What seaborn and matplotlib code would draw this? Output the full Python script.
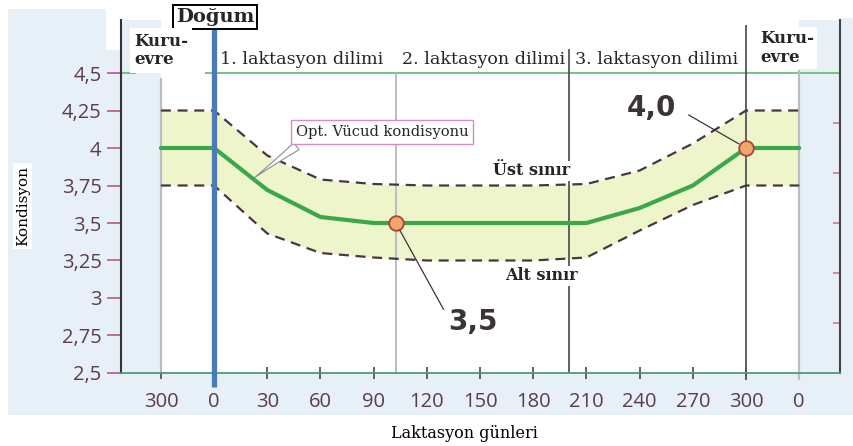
import matplotlib
matplotlib.use("Agg")
from matplotlib import pyplot as plt
from matplotlib.patches import Rectangle
import pandas as pd
import seaborn as sns

# laktasyon gunleri (-30 = kuru donem 300. gun, 330 = sonraki 0. gun)
days = [-30, 0, 30, 60, 90, 120, 150, 180, 210, 240, 270, 300, 330]
optimum = [4.0, 4.0, 3.72, 3.54, 3.5, 3.5, 3.5, 3.5, 3.5, 3.6, 3.75, 4.0, 4.0]
ust_sinir = [4.25, 4.25, 3.95, 3.79, 3.76, 3.75, 3.75, 3.75, 3.76, 3.85, 4.03, 4.25, 4.25]
alt_sinir = [3.75, 3.75, 3.43, 3.30, 3.27, 3.25, 3.25, 3.25, 3.27, 3.45, 3.62, 3.75, 3.75]

tick_days = [-30, 0, 30, 60, 90, 120, 150, 180, 210, 240, 270, 300, 330]
tick_labels = ["300", "0", "30", "60", "90", "120", "150", "180", "210", "240", "270", "300", "0"]
y_ticks = [2.5, 2.75, 3.0, 3.25, 3.5, 3.75, 4.0, 4.25, 4.5]
y_labels = ["2,5", "2,75", "3", "3,25", "3,5", "3,75", "4", "4,25", "4,5"]

mark_days = [102.5, 300]
mark_vals = [3.5, 4.0]
mark_labels = ["3,5", "4,0"]

dilim_names = ["1. laktasyon dilimi", "2. laktasyon dilimi", "3. laktasyon dilimi"]
dilim_starts = [0, 102.5, 200]

df = pd.DataFrame({"gun": days, "opt": optimum, "ust": ust_sinir, "alt": alt_sinir})

sns.set_theme(style="white")
plt.rcParams['font.family'] = ['DejaVu Sans']

LIGHTBLUE = '#e7f0f6'
TICKCOL = '#5a3a55'
DASHCOL = '#4b3347'
serif = 'DejaVu Serif'

fig, ax = plt.subplots(figsize=(8.54, 4.46), dpi=100)
fig.patch.set_facecolor('white')
plt.subplots_adjust(left=0.1417, right=0.9836, bottom=0.1637, top=0.955)

# scanned page background
fig.patches.append(Rectangle((0.009, 0.07), 0.991, 0.818, transform=fig.transFigure,
                             facecolor=LIGHTBLUE, edgecolor='none', zorder=-10))
fig.patches.append(Rectangle((0.009, 0.85), 0.115, 0.13, transform=fig.transFigure,
                             facecolor=LIGHTBLUE, edgecolor='none', zorder=-10))
fig.patches.append(Rectangle((0.985, 0.85), 0.015, 0.11, transform=fig.transFigure,
                             facecolor=LIGHTBLUE, edgecolor='none', zorder=-10))

ax.set_facecolor('white')
ax.set_xlim(-52.5, 353)
ax.set_ylim(2.5, 4.853)
ax.axvspan(-52.5, -30, color=LIGHTBLUE, lw=0, zorder=0)
ax.axvspan(330, 353, color=LIGHTBLUE, lw=0, zorder=0)

# band between the limits
ax.fill_between(df["gun"], df["alt"], df["ust"], color='#eff5cb', lw=0, zorder=1)
sns.lineplot(data=df, x="gun", y="ust", ax=ax, color=DASHCOL, lw=1.6,
             dashes=False, zorder=3)
sns.lineplot(data=df, x="gun", y="alt", ax=ax, color=DASHCOL, lw=1.6,
             dashes=False, zorder=3)
for l in ax.lines:
    l.set_linestyle((0, (4.5, 3)))
sns.lineplot(data=df, x="gun", y="opt", ax=ax, color='#3aa84a', lw=3, zorder=4)

# horizontal 4.5 line
ax.hlines(4.5, -52.5, -44, color='#6cbf7a', lw=1.3, zorder=2)
ax.hlines(4.5, -5, 353, color='#6cbf7a', lw=1.3, zorder=2)

# vertical period lines
ax.vlines(-30, 2.5, 4.47, color='#b9bec3', lw=1.6, zorder=2)
ax.vlines(102.5, 2.5, 4.5, color='#b9bec3', lw=1.4, zorder=2)
ax.vlines(200, 2.5, 4.66, color='#555555', lw=1.3, zorder=2)
ax.vlines(300, 2.45, 4.82, color='#555555', lw=1.3, zorder=2, clip_on=False)
ax.vlines(330, 2.45, 4.52, color='#b9bec3', lw=1.6, zorder=2, clip_on=False)
ax.vlines(0, 2.405, 4.80, color='#4a7bb7', lw=3.8, zorder=5, clip_on=False)

# markers
sns.scatterplot(x=mark_days, y=mark_vals, ax=ax, s=110, color='#f2a66a',
                edgecolor='#a8443a', linewidth=1.3, zorder=6)

# axes styling
ax.set_xticks(tick_days)
ax.set_xticklabels(tick_labels)
ax.set_yticks(y_ticks)
ax.set_yticklabels(y_labels)
ax.tick_params(axis='x', direction='inout', length=9, width=1.3, color='#555555',
               pad=9, labelsize=14.5, labelcolor=TICKCOL, bottom=True)
ax.tick_params(axis='y', direction='out', length=10, width=1.4, color='#c06aa8',
               pad=4, labelsize=14.5, labelcolor=TICKCOL, left=True)
for lab in ax.get_xticklabels() + ax.get_yticklabels():
    lab.set_family('Open Sans')
ax.grid(False)
ax.spines['top'].set_visible(False)
ax.spines['left'].set_color('#333333')
ax.spines['left'].set_linewidth(1.5)
ax.spines['right'].set_color('#444444')
ax.spines['right'].set_linewidth(1.5)
ax.spines['bottom'].set_color('#4f9a77')
ax.spines['bottom'].set_linewidth(1.3)

sec = ax.secondary_yaxis('right')
sec.set_yticks([4.5 - k / 3 for k in range(1, 6)])
sec.set_yticklabels([])
sec.tick_params(direction='in', length=5, width=1.2, color='#d070b0')
sec.spines['right'].set_visible(False)

ax.set_ylabel('Kondisyon', family=serif, fontsize=11, color='black',
              bbox=dict(fc='white', ec='none', pad=2))
ax.yaxis.set_label_coords(-0.127, 0.473)
ax.set_xlabel('Laktasyon günleri', family=serif, fontsize=11.5, color='black')
ax.xaxis.set_label_coords(0.477, -0.147)

# texts
ax.text(0.6, 4.873, 'Doğum', family=serif, fontweight='bold', fontsize=14,
        ha='center', va='center', clip_on=False, zorder=7,
        bbox=dict(boxstyle='square,pad=0.15', fc='white', ec='black', lw=1.4))
ax.text(-45, 4.77, 'Kuru-\nevre', family=serif, fontweight='bold', fontsize=12,
        ha='left', va='top', linespacing=1.15, zorder=7,
        bbox=dict(fc='white', ec='none', pad=3))
ax.text(308, 4.785, 'Kuru-\nevre', family=serif, fontweight='bold', fontsize=12,
        ha='left', va='top', linespacing=1.15, zorder=7,
        bbox=dict(fc='white', ec='none', pad=2))
for name, x0 in zip(dilim_names, dilim_starts):
    ax.text(x0 + 3.5, 4.59, name, family=serif, fontsize=12.6, ha='left',
            va='center', zorder=7)
ax.text(179.3, 3.847, 'Üst sınır', family=serif, fontweight='bold', fontsize=11.5,
        ha='center', va='center', zorder=7, bbox=dict(fc='white', ec='none', pad=1))
ax.text(184.4, 3.147, 'Alt sınır', family=serif, fontweight='bold', fontsize=11.5,
        ha='center', va='center', zorder=7, bbox=dict(fc='white', ec='none', pad=1))

ax.annotate('Opt. Vücud kondisyonu', xy=(21.4, 3.79), xytext=(94.7, 4.107),
            family=serif, fontsize=10.5, ha='center', va='center', zorder=7,
            bbox=dict(boxstyle='square,pad=0.35', fc='white', ec='#d48cc4', lw=1),
            arrowprops=dict(arrowstyle='wedge,tail_width=0.6,shrink_factor=0.4',
                            fc='white', ec='#8a8a9a', lw=0.8, relpos=(0.06, 0.0)))

ax.annotate(mark_labels[0], xy=(mark_days[0], mark_vals[0]), xytext=(146, 2.84),
            fontsize=20, fontweight='heavy', color='#3a3338', ha='center', va='center',
            zorder=7,
            arrowprops=dict(arrowstyle='-', color='#3a3338', lw=0.9,
                            relpos=(0.0, 0.65), shrinkA=2, shrinkB=6))
ax.annotate(mark_labels[1], xy=(mark_days[1], mark_vals[1]), xytext=(246.4, 4.27),
            fontsize=20, fontweight='heavy', color='#3a3338', ha='center', va='center',
            zorder=7,
            arrowprops=dict(arrowstyle='-', color='#3a3338', lw=0.9,
                            relpos=(1.0, 0.5), shrinkA=8, shrinkB=6))

plt.savefig('out.png', dpi=100, facecolor=fig.get_facecolor())
